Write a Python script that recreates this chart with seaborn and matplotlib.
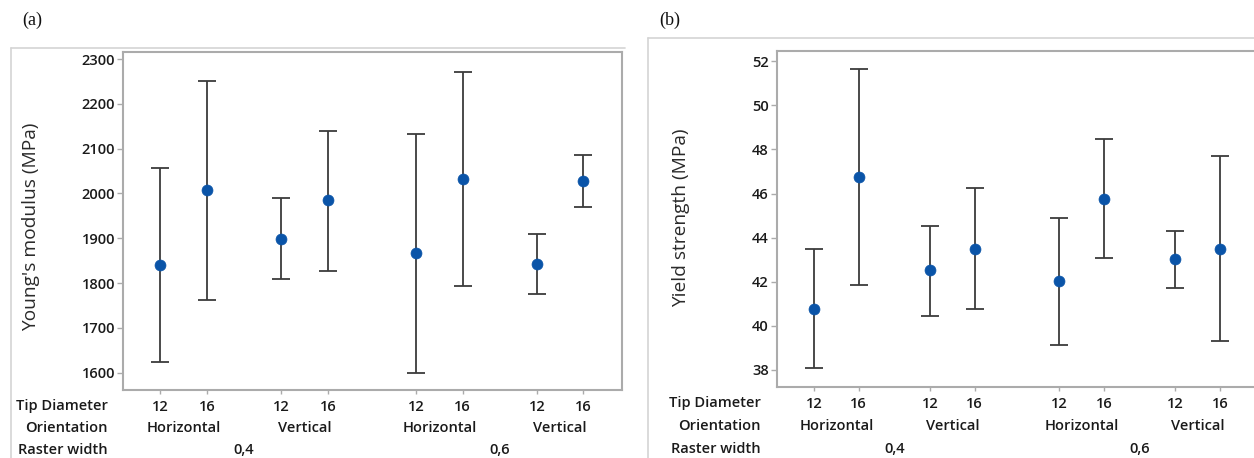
import numpy as np
import pandas as pd
import seaborn as sns
import matplotlib
matplotlib.use("Agg")
import matplotlib.pyplot as plt
from matplotlib.lines import Line2D

# ---------------- data ----------------
tip_diameter = ["12", "16", "12", "16", "12", "16", "12", "16"]
orientation = ["Horizontal", "Vertical", "Horizontal", "Vertical"]
raster_width = ["0,4", "0,6"]

young_mean = [1840, 2007, 1898, 1985, 1866, 2032, 1842, 2028]
young_low = [1624, 1762, 1810, 1828, 1600, 1793, 1776, 1970]
young_high = [2057, 2252, 1989, 2139, 2133, 2272, 1909, 2086]

yield_mean = [40.75, 46.75, 42.52, 43.49, 42.04, 45.74, 43.02, 43.49]
yield_low = [38.08, 41.87, 40.46, 40.75, 39.13, 43.06, 41.73, 39.31]
yield_high = [43.50, 51.67, 44.55, 46.27, 44.91, 48.49, 44.29, 47.71]

young_ticks = [1600, 1700, 1800, 1900, 2000, 2100, 2200, 2300]
yield_ticks = [38, 40, 42, 44, 46, 48, 50, 52]

# ---------------- style ----------------
sns.set_theme(style="white")
plt.rcParams["font.family"] = ["Open Sans", "DejaVu Sans"]
plt.rcParams["font.weight"] = "semibold"

W, H = 1254, 458
fig = plt.figure(figsize=(W / 100, H / 100), dpi=100)

# x positions with gaps between orientation / raster-width groups
idx = np.arange(len(tip_diameter))
pair = idx // 2
pos = idx + 0.6 * pair + 0.3 * (pair >= 2)

spine_c = "#ababab"
bar_c = "#3c3c3c"
pt_c = "#0a54a8"
txt_c = "#1a1a1a"
FS = 10.5


def px_rect(l, r, t, b):
    return [l / W, 1 - b / H, (r - l) / W, (b - t) / H]


def draw(ax, mean, low, high, ticks, ylim, xlim, ylabel, ylab_xy, rows_y, rowlab_x, spines_right=True):
    mean = np.asarray(mean, float)
    low = np.asarray(low, float)
    high = np.asarray(high, float)
    ax.errorbar(pos, mean, yerr=[mean - low, high - mean], fmt="none",
                ecolor=bar_c, elinewidth=1.3, capsize=6.2, capthick=1.3, zorder=2)
    df = pd.DataFrame({"pos": pos, "val": mean})
    sns.scatterplot(data=df, x="pos", y="val", ax=ax, color=pt_c, s=62,
                    edgecolor=pt_c, linewidth=0.5, zorder=3, legend=False)
    ax.set_xlim(*xlim)
    ax.set_ylim(*ylim)
    ax.set_yticks(ticks)
    ax.set_yticklabels([str(t) for t in ticks], fontsize=FS, color=txt_c)
    ax.set_xticks(pos)
    ax.set_xticklabels(tip_diameter, fontsize=FS, color=txt_c)
    ax.set_xlabel("")
    ax.set_ylabel(ylabel, fontsize=13.8, color="#2a2a2a", fontweight="medium")
    ax.yaxis.set_label_coords(*ylab_xy)
    ax.tick_params(axis="both", which="both", length=4, width=1, color=spine_c,
                   direction="out", pad=2, left=True, bottom=True)
    ax.tick_params(axis="x", length=3, pad=4.5)
    for s in ax.spines.values():
        s.set_color(spine_c)
        s.set_linewidth(1.5)
    if not spines_right:
        ax.spines["right"].set_visible(False)
    tr = ax.get_xaxis_transform()
    # Orientation row
    for k, name in enumerate(orientation):
        xc = (pos[2 * k] + pos[2 * k + 1]) / 2
        ax.text(xc, rows_y[1], name, transform=tr, ha="center", va="center",
                fontsize=FS, color=txt_c)
    # Raster width row
    for k, name in enumerate(raster_width):
        xc = (pos[4 * k] + pos[4 * k + 3]) / 2
        ax.text(xc, rows_y[2], name, transform=tr, ha="center", va="center",
                fontsize=FS, color=txt_c)
    for lab, yy in zip(["Tip Diameter", "Orientation", "Raster width"], rows_y):
        ax.text(rowlab_x, yy, lab, transform=ax.transAxes, ha="right", va="center",
                fontsize=FS, color=txt_c)


# panel (a)
axa = fig.add_axes(px_rect(123.3, 622, 51.7, 390))
draw(axa, young_mean, young_low, young_high, young_ticks, (1561.4, 2316.3), (-0.8, 9.93),
     "Young's modulus (MPa)", (-0.166, 0.482), (-0.0473, -0.1115, -0.1774), -0.0307)

# panel (b)
axb = fig.add_axes(px_rect(777, 1257, 50.7, 386.7))
draw(axb, yield_mean, yield_low, yield_high, yield_ticks, (37.24, 52.48), (-0.83, 9.93),
     "Yield strength (MPa)", (-0.182, 0.5036), (-0.0476, -0.117, -0.1866), -0.0342,
     spines_right=False)

# outer panel frames
frame_c = "#d4d4d4"
for (l, r, t) in [(11.4, 625, 47.5), (647.5, 1254, 38.3)]:
    fig.add_artist(Line2D([l / W, r / W], [1 - t / H, 1 - t / H], color=frame_c, lw=1.2,
                          transform=fig.transFigure))
    fig.add_artist(Line2D([l / W, l / W], [1 - t / H, 0], color=frame_c, lw=1.2,
                          transform=fig.transFigure))

# panel letters
fig.text(32.7 / W, 1 - 20.5 / H, "(a)", ha="center", va="center", fontsize=13,
         family=["Liberation Serif", "DejaVu Serif"], weight="normal", color="#111111")
fig.text(669.4 / W, 1 - 20.5 / H, "(b)", ha="center", va="center", fontsize=13,
         family=["Liberation Serif", "DejaVu Serif"], weight="normal", color="#111111")

fig.savefig("out.png", dpi=100, facecolor="white")
